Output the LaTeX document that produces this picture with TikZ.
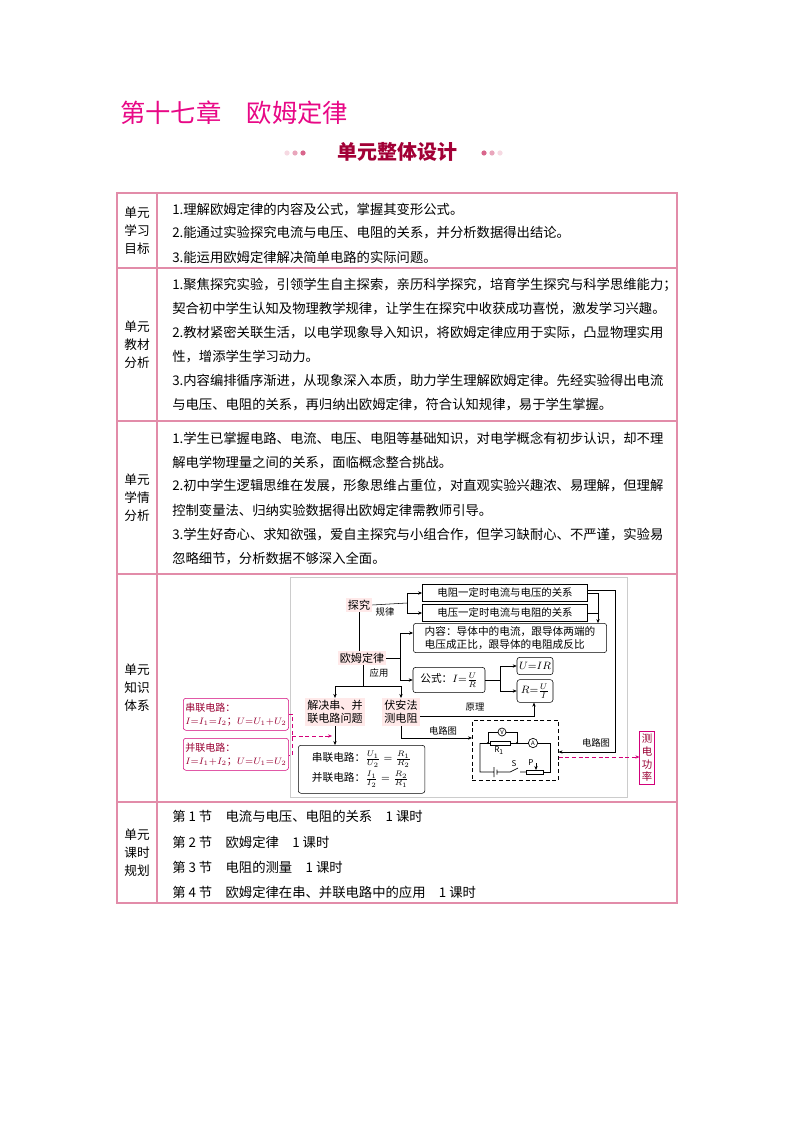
\documentclass[tikz,border=0pt]{standalone}
\usepackage{amsmath}
\usepackage{fontspec}
\setmainfont{Noto Sans CJK SC}
\usetikzlibrary{arrows.meta}
\begin{document}
\begin{tikzpicture}[x=0.75pt,y=-0.75pt,
  every node/.style={inner sep=0pt,font=\fontsize{10pt}{12pt}\selectfont},
  tl/.style={anchor=west},
  lab/.style={align=center,font=\fontsize{9.5pt}{13.5pt}\selectfont},
  gbox/.style={draw,rounded corners=2pt,inner sep=1.5pt,font=\fontsize{8pt}{10pt}\selectfont},
  pk/.style={fill=pink!35,inner sep=1.5pt,font=\fontsize{8.3pt}{10pt}\selectfont},
  ar/.style={-{Stealth[length=3pt,width=2.5pt]}},
  pkd/.style={densely dashed,draw=purple!70!magenta,-{Stealth[length=3pt,width=2.5pt]}},
  sm/.style={font=\fontsize{6pt}{7pt}\selectfont\itshape}]
\useasboundingbox (0,0) rectangle (794,1123);
\fill[white] (0,0) rectangle (794,1123);
% title
\node[anchor=west,text=magenta!90!purple,font=\fontsize{19pt}{22pt}\selectfont] (title) at (120,113) {第十七章\quad 欧姆定律};
\node[text=purple!85!black,font=\fontsize{15pt}{18pt}\selectfont\bfseries] (sub) at (397,152) {单元整体设计};
\foreach \i/\c in {0/15,1/35,2/60}{\fill[purple!\c!white] (287+\i*8,153) circle (2.6);}
\foreach \i/\c in {0/60,1/35,2/15}{\fill[purple!\c!white] (484+\i*8,153) circle (2.6);}
% table
\draw[purple!45!white,line width=0.8pt] (117,193) rectangle (677,903);
\foreach \y in {268,421,574,802}{\draw[purple!45!white,line width=0.8pt] (117,\y)--(677,\y);}
\draw[purple!45!white,line width=0.8pt] (157,193)--(157,903);
\node[lab] (l1) at (137,231) {单元\\学习\\目标};
\node[lab] (l2) at (137,345) {单元\\教材\\分析};
\node[lab] (l3) at (137,498) {单元\\学情\\分析};
\node[lab] (l4) at (137,688) {单元\\知识\\体系};
\node[lab] (l5) at (137,853) {单元\\课时\\规划};
\node[tl] (a1) at (172,210) {1.理解欧姆定律的内容及公式，掌握其变形公式。};
\node[tl] (a2) at (172,233) {2.能通过实验探究电流与电压、电阻的关系，并分析数据得出结论。};
\node[tl] (a3) at (172,257) {3.能运用欧姆定律解决简单电路的实际问题。};
\node[tl] (b1) at (172,285) {1.聚焦探究实验，引领学生自主探索，亲历科学探究，培育学生探究与科学思维能力；};
\node[tl] (b2) at (172,309) {契合初中学生认知及物理教学规律，让学生在探究中收获成功喜悦，激发学习兴趣。};
\node[tl] (b3) at (172,333) {2.教材紧密关联生活，以电学现象导入知识，将欧姆定律应用于实际，凸显物理实用};
\node[tl] (b4) at (172,357) {性，增添学生学习动力。};
\node[tl] (b5) at (172,381) {3.内容编排循序渐进，从现象深入本质，助力学生理解欧姆定律。先经实验得出电流};
\node[tl] (b6) at (172,405) {与电压、电阻的关系，再归纳出欧姆定律，符合认知规律，易于学生掌握。};
\node[tl] (c1) at (172,438) {1.学生已掌握电路、电流、电压、电阻等基础知识，对电学概念有初步认识，却不理};
\node[tl] (c2) at (172,462) {解电学物理量之间的关系，面临概念整合挑战。};
\node[tl] (c3) at (172,486) {2.初中学生逻辑思维在发展，形象思维占重位，对直观实验兴趣浓、易理解，但理解};
\node[tl] (c4) at (172,510) {控制变量法、归纳实验数据得出欧姆定律需教师引导。};
\node[tl] (c5) at (172,535) {3.学生好奇心、求知欲强，爱自主探究与小组合作，但学习缺耐心、不严谨，实验易};
\node[tl] (c6) at (172,559) {忽略细节，分析数据不够深入全面。};
\node[tl] (d1) at (172,816) {第 1 节\quad 电流与电压、电阻的关系\quad 1 课时};
\node[tl] (d2) at (172,842) {第 2 节\quad 欧姆定律\quad 1 课时};
\node[tl] (d3) at (172,867) {第 3 节\quad 电阻的测量\quad 1 课时};
\node[tl] (d4) at (172,892) {第 4 节\quad 欧姆定律在串、并联电路中的应用\quad 1 课时};
% knowledge diagram
\draw[black!20] (290,577) rectangle (627,797);
\node[pk] (tj) at (359,605) {探究};
\node[font=\fontsize{7pt}{8pt}\selectfont] (gl) at (385,612) {规律};
\node[draw,minimum width=124pt,minimum height=12.5pt,inner sep=1pt,font=\fontsize{7.8pt}{9pt}\selectfont] (r1) at (505,593) {电阻一定时电流与电压的关系};
\node[draw,minimum width=124pt,minimum height=12.5pt,inner sep=1pt,font=\fontsize{7.8pt}{9pt}\selectfont] (r2) at (505,613) {电压一定时电流与电阻的关系};
\node[gbox,minimum width=145pt,minimum height=22pt,align=left] (r3) at (510,638) {内容：导体中的电流，跟导体两端的\\电压成正比，跟导体的电阻成反比};
\node[pk] (om) at (362,658) {欧姆定律};
\node[font=\fontsize{7pt}{8pt}\selectfont] (yy) at (379,673) {应用};
\node[gbox,minimum width=54pt,minimum height=19pt] (gs) at (449,680) {公式：$I{=}\frac{U}{R}$};
\node[gbox,minimum width=27pt,minimum height=13pt] (uir) at (535,666) {$U{=}IR$};
\node[gbox,minimum width=27pt,minimum height=17pt] (rui) at (535,691) {$R{=}\frac{U}{I}$};
\node[pk,align=center] (jj) at (335,712) {解决串、并\\联电路问题};
\node[pk,align=center] (fa) at (401,712) {伏安法\\测电阻};
\node[gbox,minimum width=95pt,minimum height=36pt,align=left,anchor=north west] (r4) at (298,745) {串联电路：$\frac{U_1}{U_2}=\frac{R_1}{R_2}$\\[2pt]并联电路：$\frac{I_1}{I_2}=\frac{R_2}{R_1}$};
\node[draw,densely dashed,minimum width=64.5pt,minimum height=45pt,anchor=north west] (ck) at (472,720) {};
\node[draw=purple!70!magenta,rounded corners=2pt,minimum width=71pt,minimum height=24pt,anchor=north west,align=left,text=purple!80!black,inner sep=1.5pt,font=\fontsize{7.5pt}{10pt}\selectfont] (cl) at (183,698) {串联电路：\\$I{=}I_1{=}I_2$；$U{=}U_1{+}U_2$};
\node[draw=purple!70!magenta,rounded corners=2pt,minimum width=71pt,minimum height=24pt,anchor=north west,align=left,text=purple!80!black,inner sep=1.5pt,font=\fontsize{7.5pt}{10pt}\selectfont] (bl) at (183,738) {并联电路：\\$I{=}I_1{+}I_2$；$U{=}U_1{=}U_2$};
\node[draw=purple!70!magenta,minimum width=11pt,minimum height=40pt,align=center,text=purple!80!black,font=\fontsize{7.8pt}{9.5pt}\selectfont] (cg) at (647,758) {测\\电\\功\\率};
% connectors
\draw (tj.east)--(407,603);
\draw[ar] (407,593)--(r1.west);
\draw[ar] (407,613)--(r2.west);
\draw (407,593)--(407,613);
\draw (tj.south)--(om.north -| tj.south);
\draw (r1.east)--(598,593)--(598,613);
\draw[ar] (r2.east)--(598,613)--(r3.north -| 598,0);
\draw[ar] (r1.east |- 0,590)--(615,590)--(615,752)--(ck.east |- 0,752);
\node[font=\fontsize{7pt}{8pt}\selectfont] (dl3) at (596,743) {电路图};
\draw (om.east)--(400,658);
\draw (400,633)--(400,680);
\draw[ar] (400,633)--(r3.west |- 0,633);
\draw[ar] (400,680)--(gs.west);
\draw (363,665)--(363,686);
\draw (335,686)--(401,686);
\draw[ar] (335,686)--(jj.north);
\draw[ar] (401,686)--(fa.north);
\draw (gs.east)--(500,680);
\draw (500,666)--(500,691);
\draw[ar] (500,666)--(uir.west);
\draw[ar] (500,691)--(rui.west);
\draw[ar] (fa.east |- 0,716)--(534,716)--(rui.south -| 534,0);
\node[font=\fontsize{7pt}{8pt}\selectfont] (yl) at (475,707) {原理};
\draw[ar] (fa.south)--(fa.south |- 0,738)--(ck.west |- 0,738);
\node[font=\fontsize{7pt}{8pt}\selectfont] (dl) at (443,731) {电路图};
\draw[ar] (jj.south)--(r4.north -| jj.south);
\draw[pkd,-] (cl.east |- 0,714)--(292,714)--(292,755)--(bl.east |- 0,755);
\draw[pkd] (292,736)--(332,736);
\draw[pkd] (ck.east |- 0,757)--(cg.west |- 0,757);
% circuit
\begin{scope}[line width=0.5pt]
\draw (480,743)--(490,743) (510,743)--(528,743) (538,743)--(550,743)--(550,763);
\draw (488,743)--(488,732)--(498,732) (506,732)--(517,732)--(517,743);
\draw[fill=white] (490,741) rectangle (510,745);
\node[draw,circle,fill=white,minimum size=6pt,inner sep=0,font=\fontsize{4.5pt}{5pt}\selectfont] (vv) at (502,732) {V};
\node[draw,circle,fill=white,minimum size=7pt,inner sep=0,font=\fontsize{4.5pt}{5pt}\selectfont] (aa) at (533,743) {A};
\fill (488,743) circle (1.2) (517,743) circle (1.2);
\draw (480,743)--(480,772)--(494,772) (494,767)--(494,777) (497,769.5)--(497,774.5) (497,772)--(510,772)--(518,768) (520,772)--(526,772);
\draw (526,770) rectangle (543,774) (543,772)--(550,772)--(550,763);
\draw[ar] (536,763)--(536,770);
\node[sm] (rr) at (499,751) {R\textsubscript{1}};
\node[sm] (ss) at (514,764) {S};
\node[sm] (pp) at (531,763) {P};
\end{scope}
\end{tikzpicture}
\end{document}
